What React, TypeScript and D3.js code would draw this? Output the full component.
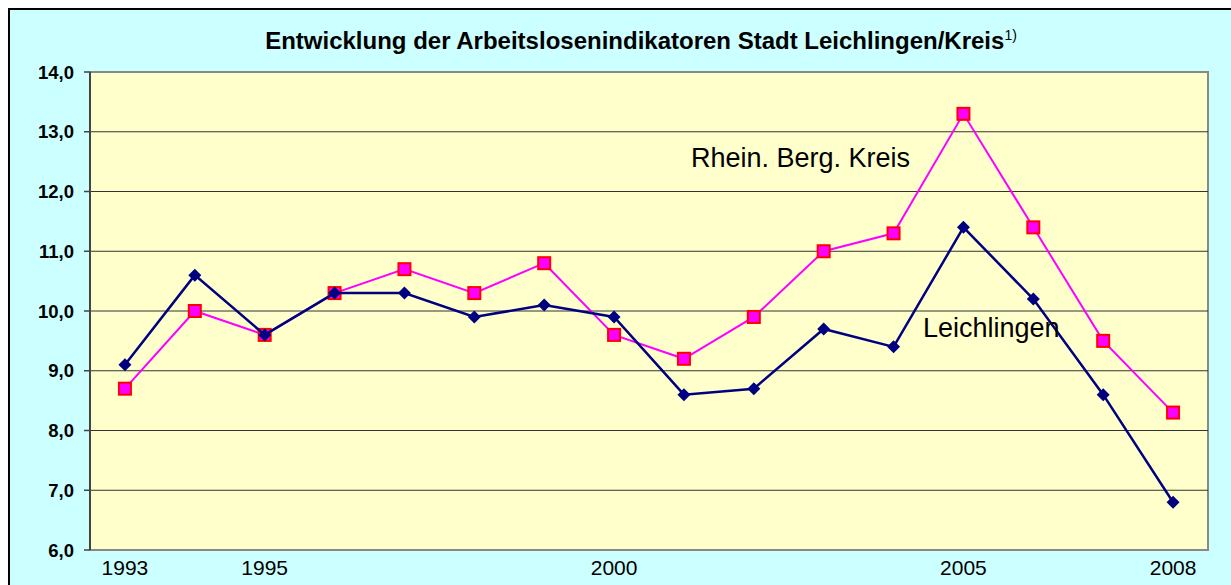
import React from 'react';
import {scaleBand, scaleLinear, line} from 'd3';

// Jahre und Quoten (in %)
const years = ['1993', '1994', '1995', '1996', '1997', '1998', '1999', '2000',
    '2001', '2002', '2003', '2004', '2005', '2006', '2007', '2008'];
const leichlingen = [9.1, 10.6, 9.6, 10.3, 10.3, 9.9, 10.1, 9.9, 8.6, 8.7, 9.7, 9.4, 11.4, 10.2, 8.6, 6.8];
const kreis = [8.7, 10.0, 9.6, 10.3, 10.7, 10.3, 10.8, 9.6, 9.2, 9.9, 11.0, 11.3, 13.3, 11.4, 9.5, 8.3];
const yearLabels = ['1993', '1995', '2000', '2005', '2008'];
const yTicks = [6, 7, 8, 9, 10, 11, 12, 13, 14];

const W = 1223;
const H = 577;
const plot = {left: 82, top: 64, right: 1200, bottom: 542};

export default function App() {
    const x = scaleBand().domain(years).range([plot.left, plot.right]);
    const y = scaleLinear().domain([6, 14]).range([plot.bottom, plot.top]);
    const cx = (yr: string) => x(yr)! + x.bandwidth() / 2;

    const path = line<number>()
        .x((d, i) => cx(years[i]))
        .y(d => y(d));

    const fmt = (v: number) => v.toFixed(1).replace('.', ',');

    return (
        <svg width={W} height={H} style={{position: 'absolute', left: 8, top: 8}}
             fontFamily="'Liberation Sans', Arial, sans-serif">
            <rect x={1} y={1} width={W + 20} height={H + 20} fill="#CCFFFF" stroke="#000" strokeWidth={2}/>

            <text x={633} y={41} textAnchor="middle" fontSize={24} fontWeight="bold">
                Entwicklung der Arbeitslosenindikatoren Stadt Leichlingen/Kreis
                <tspan fontSize={14} fontWeight="normal" dy={-9}>1)</tspan>
            </text>

            <rect x={plot.left} y={plot.top} width={plot.right - plot.left} height={plot.bottom - plot.top}
                  fill="#FFFFCC" stroke="#888" strokeWidth={2}/>

            {yTicks.slice(1, -1).map(t => (
                <line key={t} x1={plot.left} x2={plot.right} y1={y(t)} y2={y(t)} stroke="#333" strokeWidth={1}/>
            ))}

            <line x1={plot.left} x2={plot.left} y1={plot.top} y2={plot.bottom} stroke="#444" strokeWidth={2}/>
            {yTicks.map(t => (
                <g key={t}>
                    <line x1={plot.left - 6} x2={plot.left} y1={y(t)} y2={y(t)} stroke="#444" strokeWidth={1.5}/>
                    <text x={plot.left - 16} y={y(t) + 6.5} textAnchor="end" fontSize={18.5} fontWeight="bold">
                        {fmt(t)}
                    </text>
                </g>
            ))}

            {yearLabels.map(yr => (
                <text key={yr} x={cx(yr)} y={567} textAnchor="middle" fontSize={21}>{yr}</text>
            ))}

            <path d={path(kreis)!} fill="none" stroke="#FF00FF" strokeWidth={2}/>
            {kreis.map((v, i) => (
                <rect key={i} x={cx(years[i]) - 6} y={y(v) - 6} width={12} height={12}
                      fill="#FF00FF" stroke="#FF0000" strokeWidth={2}/>
            ))}

            <path d={path(leichlingen)!} fill="none" stroke="#000080" strokeWidth={2.5}/>
            {leichlingen.map((v, i) => (
                <path key={i} transform={`translate(${cx(years[i])},${y(v)})`}
                      d="M0,-6.5L6.5,0L0,6.5L-6.5,0Z" fill="#000080"/>
            ))}

            <text x={683} y={159} fontSize={27}>Rhein. Berg. Kreis</text>
            <text x={915} y={329} fontSize={27}>Leichlingen</text>
        </svg>
    );
}
